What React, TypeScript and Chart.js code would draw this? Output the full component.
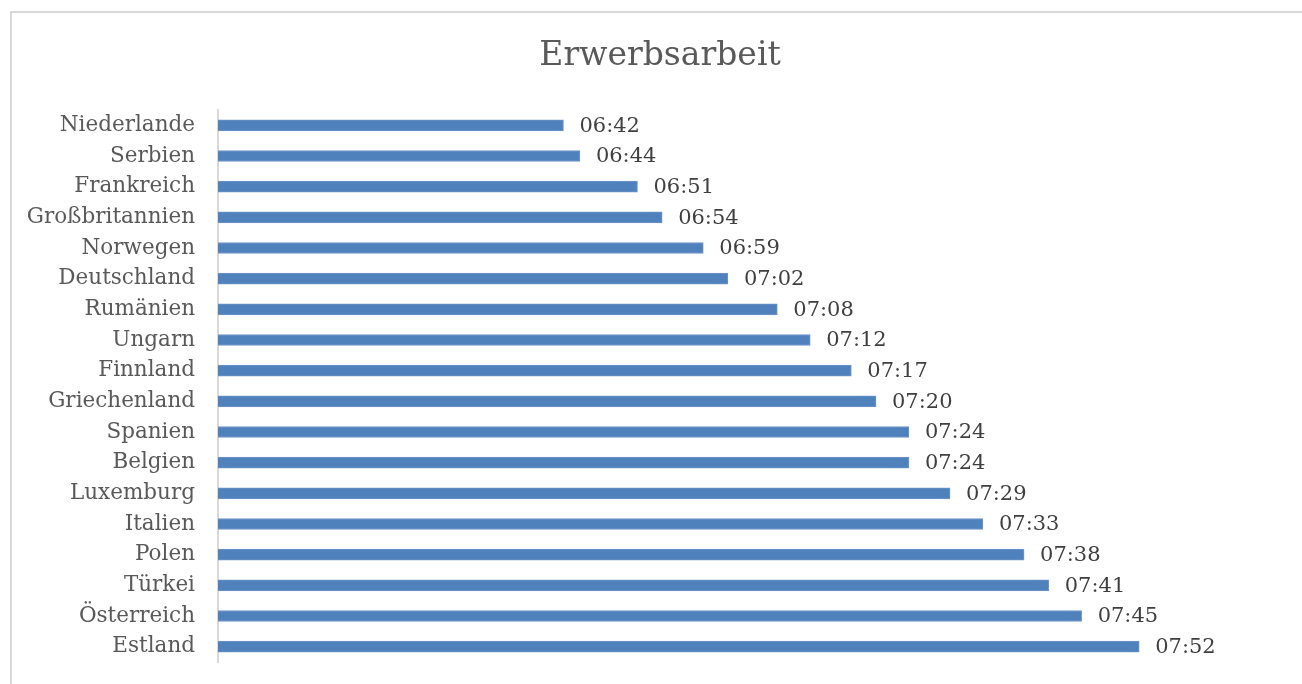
import React, { useEffect, useRef } from "react";
import { Chart, registerables } from "chart.js";

Chart.register(...registerables);

const chartTitle = "Erwerbsarbeit";
const countries = [
  "Niederlande", "Serbien", "Frankreich", "Großbritannien", "Norwegen", "Deutschland",
  "Rumänien", "Ungarn", "Finnland", "Griechenland", "Spanien", "Belgien",
  "Luxemburg", "Italien", "Polen", "Türkei", "Österreich", "Estland",
];
const times = [
  "06:42", "06:44", "06:51", "06:54", "06:59", "07:02",
  "07:08", "07:12", "07:17", "07:20", "07:24", "07:24",
  "07:29", "07:33", "07:38", "07:41", "07:45", "07:52",
];
const axisMin = "06:00";
const axisMax = "08:00";

const toMinutes = (t: string) => {
  const [h, m] = t.split(":").map(Number);
  return h * 60 + m;
};
const toLabel = (v: number) => {
  const h = Math.floor(v / 60);
  const m = Math.round(v - h * 60);
  return String(h).padStart(2, "0") + ":" + String(m).padStart(2, "0");
};

const FONT = "'DejaVu Serif', 'Liberation Serif', serif";

const valueLabels = {
  id: "valueLabels",
  afterDatasetsDraw(chart: any) {
    const { ctx } = chart;
    const meta = chart.getDatasetMeta(0);
    ctx.save();
    ctx.font = `21px ${FONT}`;
    ctx.fillStyle = "#404040";
    ctx.textAlign = "left";
    ctx.textBaseline = "middle";
    meta.data.forEach((bar: any, i: number) => {
      const v = chart.data.datasets[0].data[i] as number;
      ctx.fillText(toLabel(v), bar.x + 16, bar.y + 1);
    });
    ctx.restore();
  },
};

const centeredTitle = {
  id: "centeredTitle",
  afterDraw(chart: any) {
    const { ctx } = chart;
    ctx.save();
    ctx.font = `33px ${FONT}`;
    ctx.fillStyle = "#595959";
    ctx.textAlign = "center";
    ctx.textBaseline = "middle";
    ctx.fillText(chartTitle, chart.width / 2, 45);
    ctx.restore();
  },
};

export default function App() {
  const ref = useRef<HTMLCanvasElement | null>(null);
  useEffect(() => {
    if (!ref.current) return;
    const chart = new Chart(ref.current, {
      type: "bar",
      data: {
        labels: countries,
        datasets: [
          {
            data: times.map(toMinutes),
            backgroundColor: "#4f81bd",
            borderColor: "#7096c8",
            borderWidth: 1,
            barThickness: 11,
          },
        ],
      },
      options: {
        indexAxis: "y",
        animation: false,
        responsive: false,
        maintainAspectRatio: false,
        layout: { padding: { left: 0, right: 105, top: 99, bottom: 22 } },
        plugins: {
          legend: { display: false },
          tooltip: { enabled: false },
          title: { display: false },
        },
        scales: {
          x: {
            display: false,
            min: toMinutes(axisMin),
            max: toMinutes(axisMax),
          },
          y: {
            grid: { display: true, drawOnChartArea: false, drawTicks: false },
            border: { display: true, color: "#d9d9d9", width: 2 },
            ticks: {
              color: "#595959",
              font: { family: FONT, size: 21.5 },
              padding: 23,
              autoSkip: false,
            },
            afterFit: (scale: any) => {
              scale.width = 208;
              scale.paddingTop = 0;
              scale.paddingBottom = 0;
            },
          },
        },
      },
      plugins: [valueLabels, centeredTitle],
    });
    return () => chart.destroy();
  }, []);

  return (
    <div style={{ position: "fixed", left: 0, top: 0, width: 1302, height: 684, overflow: "hidden", background: "#fff" }}>
      <canvas ref={ref} width={1300} height={673} style={{ position: "absolute", left: 10, top: 11, width: 1300, height: 673 }} />
      <div style={{ position: "absolute", left: 10, top: 11, width: 1300, height: 690, border: "2px solid #d9d9d9", boxSizing: "border-box", pointerEvents: "none" }} />
    </div>
  );
}
